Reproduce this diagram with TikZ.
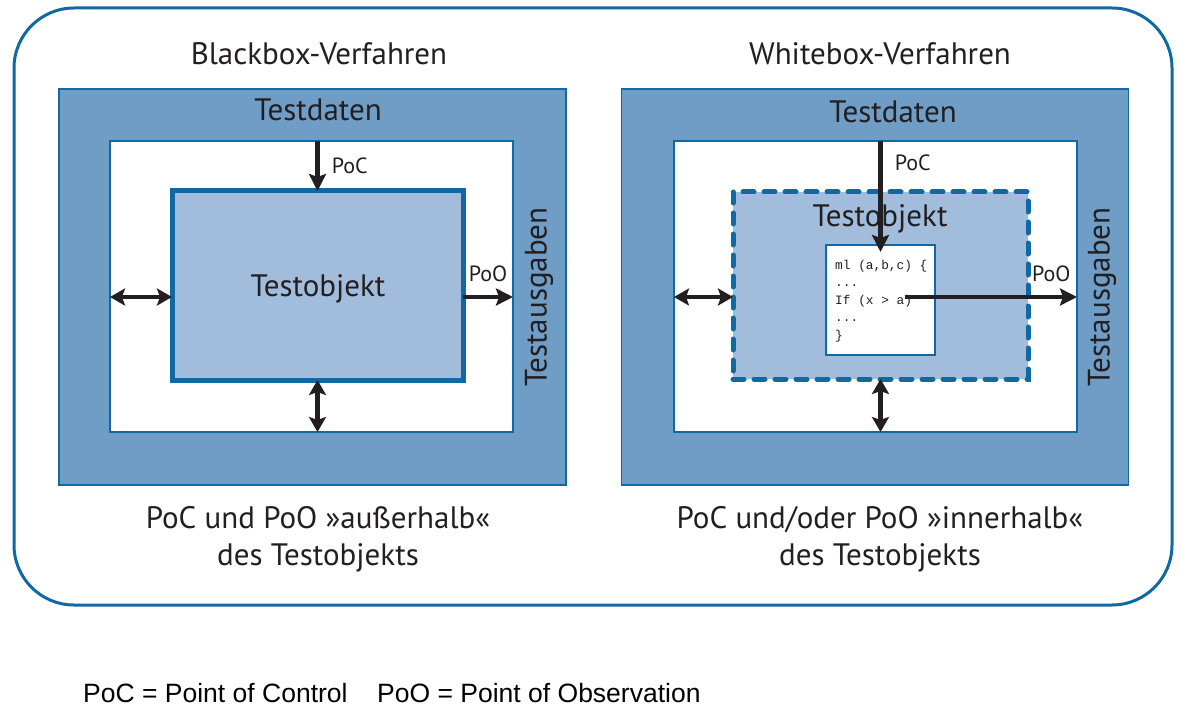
\documentclass[tikz,border=0pt]{standalone}
\usepackage{fontspec}
\setmainfont{PT Sans}
\newfontfamily\legendfont{Liberation Sans}
\newfontfamily\codefont{Liberation Mono}
\usetikzlibrary{arrows.meta,positioning}
\definecolor{frameblue}{HTML}{0F69A3}
\definecolor{midblue}{HTML}{6F9DC6}
\definecolor{lightblue}{HTML}{A2BDDB}
\definecolor{arrowblack}{HTML}{231F20}
\tikzstyle{panel} = [rectangle, draw=frameblue, line width=1.5pt, fill=midblue, minimum width=507pt, minimum height=396pt, inner sep=0pt, outer sep=0pt]
\tikzstyle{inner} = [rectangle, draw=frameblue, line width=1.5pt, fill=white, minimum width=403pt, minimum height=291pt, inner sep=0pt, outer sep=0pt]
\tikzstyle{testobj} = [rectangle, draw=frameblue, line width=5pt, fill=lightblue, inner sep=0pt, outer sep=0pt]
\tikzstyle{label} = [text=arrowblack, font=\fontsize{31}{37}\selectfont, inner sep=0pt]
\tikzstyle{small} = [text=arrowblack, font=\fontsize{22}{26}\selectfont, inner sep=0pt]
\tikzstyle{dataflow} = [-{Stealth[length=17pt, width=17pt, inset=3pt]}, line width=4.5pt, draw=arrowblack]
\tikzstyle{twoway} = [{Stealth[length=15pt, width=17pt, inset=3pt]}-{Stealth[length=15pt, width=17pt, inset=3pt]}, line width=4.5pt, draw=arrowblack]

\begin{document}
\begin{tikzpicture}[x=1pt, y=-1pt]
\useasboundingbox (0,0) rectangle (1180,714);

% Outer frame
\draw[frameblue, line width=3pt, rounded corners=60pt] (14,8) rectangle (1172,605);

% Blackbox side
\node[label] (titleL) at (319,54) {Blackbox-Verfahren};
\node[panel] (panelL) at (312.5,287) {};
\node[inner] (innerL) at (311.5,286.5) {};
\node[testobj, minimum width=291pt, minimum height=189pt] (objL) at (317.5,285.5) {};
\node[label] at (318,289) {Testobjekt};
\node[label] (inL) at (318,110) {Testdaten};
\node[label, rotate=90] (outL) at (539,297) {Testausgaben};
\node[label, align=center] (capL) at (318,539) {PoC und PoO »außerhalb«\\des Testobjekts};

% Whitebox side
\node[label] (titleR) at (880,54) {Whitebox-Verfahren};
\node[panel] (panelR) at (875,287) {};
\node[inner] (innerR) at (875.5,286.5) {};
\node[testobj, fill=lightblue, dash pattern=on 11pt off 10pt, line cap=round, minimum width=295pt, minimum height=187pt] (objR) at (880.5,285.5) {};
\node[label] at (880,219) {Testobjekt};
\node[rectangle, draw=frameblue, line width=1.5pt, fill=white, minimum width=109pt, minimum height=110pt, inner sep=0pt, outer sep=0pt] (code) at (880.5,300) {};
\node[anchor=north west, align=left, inner sep=0pt, text=arrowblack, font=\codefont\fontsize{12.8}{17.5}\selectfont] (codetext) at (835,260) {ml (a,b,c) \{\\...\\If (x > a)\\...\\\}};
\node[label] (inR) at (893,112) {Testdaten};
\node[label, rotate=90] (outR) at (1102,297) {Testausgaben};
\node[label, align=center] (capR) at (880,539) {PoC und/oder PoO »innerhalb«\\des Testobjekts};

% Arrows
\coordinate (midL) at (318,297);
\draw[dataflow] (objL.north |- innerL.north) -- node[small, right=12pt, pos=0.5]{PoC} (objL.north);
\draw[dataflow] (midL -| objL.east) -- node[small, above=13pt]{PoO} (midL -| innerL.east);
\draw[twoway] (midL -| innerL.west) -- (midL -| objL.west);
\draw[twoway] (objL.south) -- (objL.south |- innerL.south);

\coordinate (ifR) at (905,297);
\draw[dataflow] (innerR.north -| code.north) -- node[small, right=12pt, pos=0.2]{PoC} ([yshift=-7pt]code.north);
\draw[dataflow] (ifR) -- node[small, above=13pt, pos=0.85]{PoO} (ifR -| innerR.east);
\draw[twoway] (ifR -| innerR.west) -- (ifR -| objR.west);
\draw[twoway] (objR.south) -- (objR.south |- innerR.south);

% Legend
\node[anchor=base west, inner sep=0pt, font=\legendfont\fontsize{26.5}{30}\selectfont] (legendC) at (83,702) {PoC = Point of Control};
\node[anchor=base west, inner sep=0pt, font=\legendfont\fontsize{26.5}{30}\selectfont] (legendO) at (377,702) {PoO = Point of Observation};

\end{tikzpicture}
\end{document}
